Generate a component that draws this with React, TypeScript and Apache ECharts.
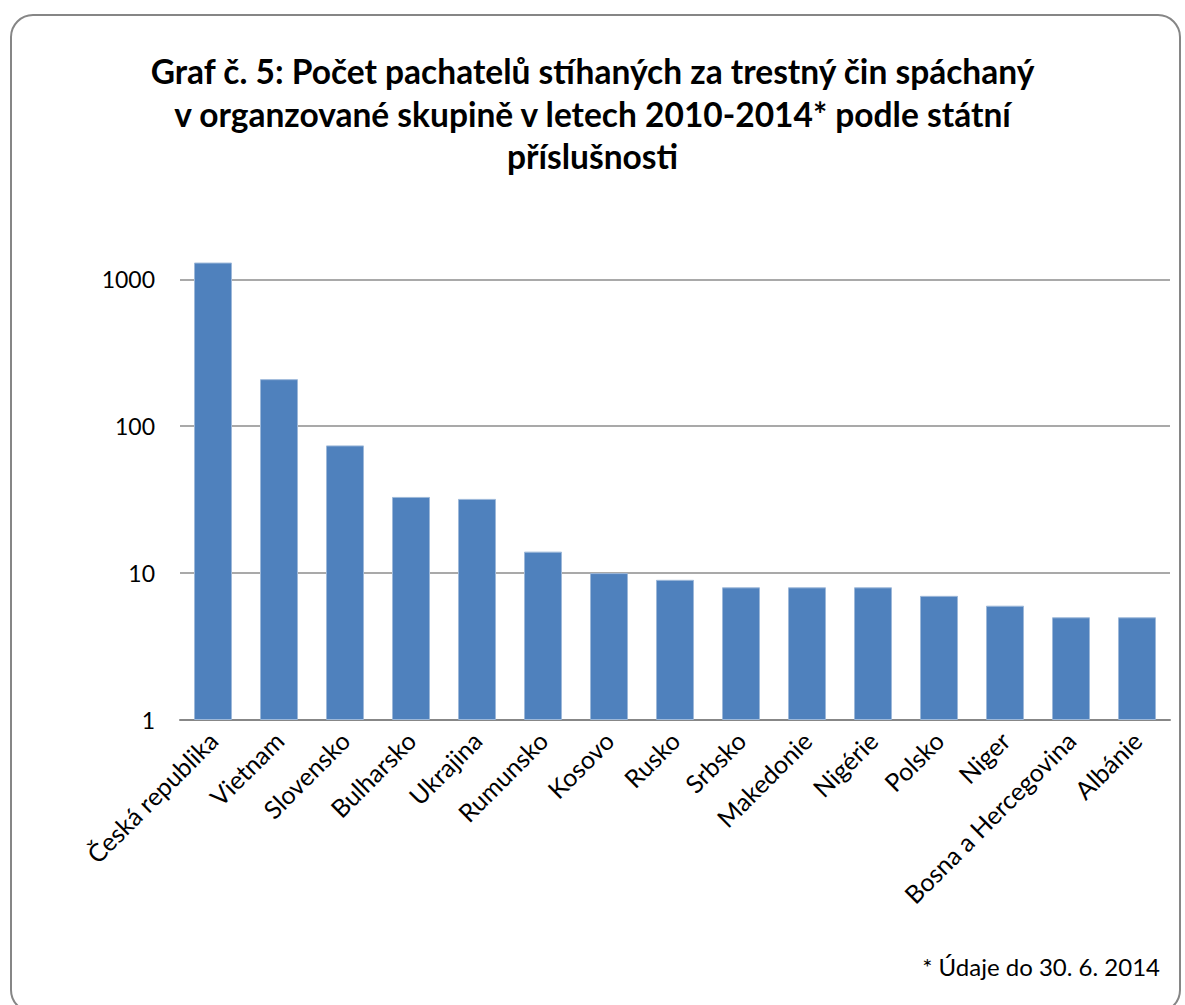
import React, { useEffect, useRef } from "react";
import * as echarts from "echarts";

const categories = [
  "Česká republika",
  "Vietnam",
  "Slovensko",
  "Bulharsko",
  "Ukrajina",
  "Rumunsko",
  "Kosovo",
  "Rusko",
  "Srbsko",
  "Makedonie",
  "Nigérie",
  "Polsko",
  "Niger",
  "Bosna a Hercegovina",
  "Albánie",
];
const values = [1300, 209, 74, 33, 32, 14, 10, 9, 8, 8, 8, 7, 6, 5, 5];
const titleText =
  "Graf č. 5: Počet pachatelů stíhaných za trestný čin spáchaný\nv organzované skupině v letech 2010-2014* podle státní\npříslušnosti";
const footnote = "* Údaje do 30. 6. 2014";

const FONT = "Lato, 'Open Sans', sans-serif";

export default function App() {
  const ref = useRef<HTMLDivElement>(null);
  useEffect(() => {
    if (!ref.current) return;
    const chart = echarts.init(ref.current, undefined, { renderer: "svg" });
    chart.setOption({
      animation: false,
      backgroundColor: "#ffffff",
      textStyle: { fontFamily: FONT },
      graphic: [
        {
          type: "rect",
          shape: { x: 11, y: 15, width: 1169, height: 997, r: 22 },
          style: { fill: "none", stroke: "#868686", lineWidth: 2 },
          z: -1,
        },
        {
          type: "text",
          x: 592.5,
          y: 50,
          style: {
            text: titleText,
            fontFamily: FONT,
            fontWeight: "bold",
            fontSize: 33.5,
            lineHeight: 42.5,
            fill: "#000000",
            align: "center",
            verticalAlign: "top",
          },
        },
        {
          type: "text",
          x: 1160,
          y: 966,
          style: {
            text: footnote,
            fontFamily: FONT,
            fontSize: 24,
            fill: "#000000",
            align: "right",
            verticalAlign: "middle",
          },
        },
      ],
      grid: { left: 180, right: 15, top: 279.3, bottom: 285, containLabel: false },
      xAxis: {
        type: "category",
        data: categories,
        axisTick: { show: false },
        axisLine: { lineStyle: { color: "#878787", width: 2 } },
        axisLabel: {
          rotate: 45,
          interval: 0,
          margin: 16,
          fontFamily: FONT,
          fontSize: 25,
          color: "#000000",
        },
      },
      yAxis: {
        type: "log",
        logBase: 10,
        min: 1,
        max: 1000,
        axisLine: { show: false },
        axisTick: { show: false },
        splitLine: { lineStyle: { color: "#8c8c8c", width: 1.5 } },
        axisLabel: {
          margin: 25,
          fontFamily: FONT,
          fontSize: 23,
          color: "#000000",
          formatter: (v: number) => String(Math.round(v)),
        },
      },
      series: [
        {
          type: "bar",
          data: values,
          barWidth: 38,
          clip: false,
          itemStyle: { color: "#4f81bd", borderColor: "#9db8d9", borderWidth: 1 },
        },
      ],
    });
    return () => chart.dispose();
  }, []);
  return (
    <div
      ref={ref}
      style={{ position: "absolute", left: 0, top: 0, width: 1185, height: 1005 }}
    />
  );
}
